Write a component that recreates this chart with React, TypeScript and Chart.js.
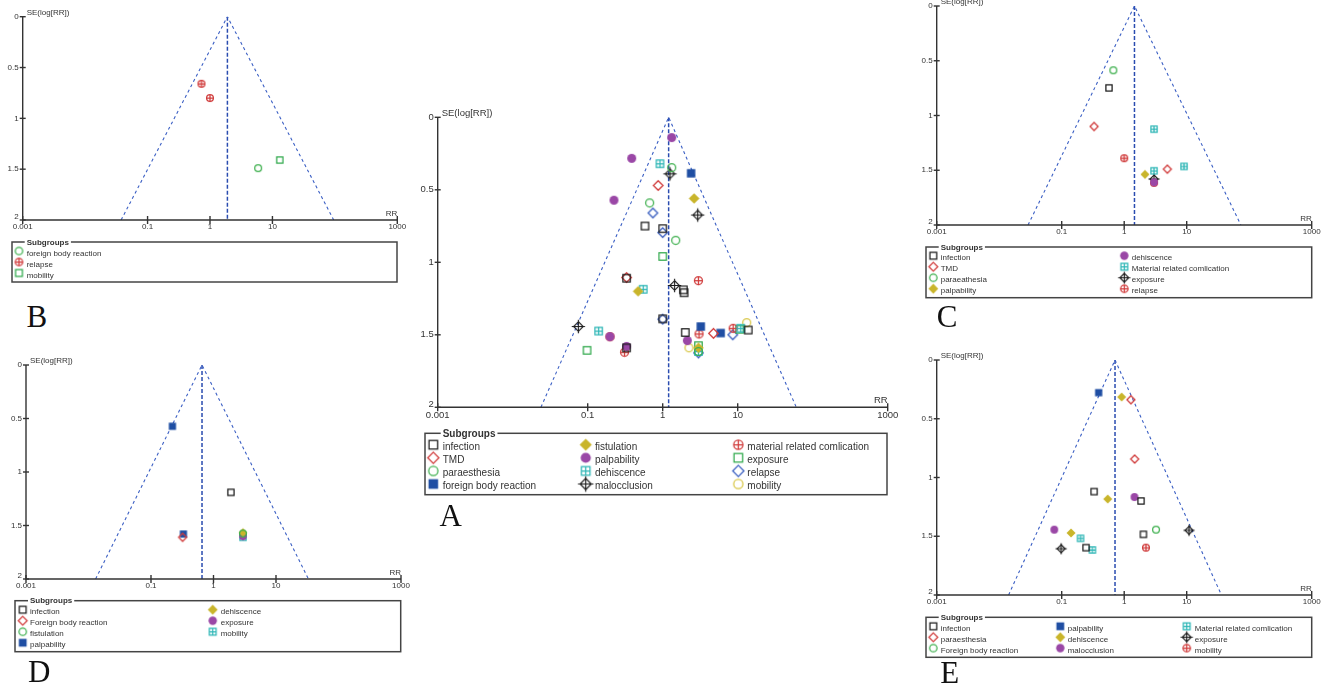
import React, { useEffect, useRef } from "react";
import { Chart, registerables } from "chart.js";

Chart.register(...registerables);

// ---------------- DATA ----------------
const xTickValues = [0.001, 0.1, 1, 10, 1000];
const xTickLabels = ["0.001", "0.1", "1", "10", "1000"];
const yTickValues = [0, 0.5, 1, 1.5, 2];
const yTickLabels = ["0", "0.5", "1", "1.5", "2"];

const panelNames = ["A", "B", "C", "D", "E"];
const pooledRR = [1.2, 1.9, 1.46, 0.655, 0.713];

// Panel A
const groupsA = ["infection", "TMD", "paraesthesia", "foreign body reaction", "fistulation", "palpability", "dehiscence", "malocclusion", "material related comlication", "exposure", "relapse", "mobility"];
const rrA = [
  [0.58, 1.0, 0.33, 1.89, 1.93, 1.0, 2.0, 13.8, 0.33],
  [0.87, 0.33, 4.75],
  [1.32, 0.67, 1.49, 3.0],
  [2.39, 3.22, 5.93],
  [2.62, 0.47, 3.0],
  [1.32, 0.386, 0.224, 0.198, 0.33, 2.13],
  [0.92, 0.55, 0.14, 11.0, 3.0],
  [1.25, 2.93, 1.44, 0.075],
  [2.99, 0.198, 0.31, 3.05, 8.7],
  [1.0, 0.098, 3.0, 10.6],
  [0.74, 1.0, 1.0, 8.6, 3.0],
  [13.2, 2.24],
];
const seA = [
  [0.75, 0.768, 1.11, 1.19, 1.21, 1.39, 1.484, 1.467, 1.59],
  [0.47, 1.105, 1.49],
  [0.347, 0.59, 0.848, 1.615],
  [0.386, 1.443, 1.488],
  [0.56, 1.2, 1.59],
  [0.14, 0.283, 0.572, 1.513, 1.58, 1.54],
  [0.32, 1.186, 1.474, 1.455, 1.615],
  [0.39, 0.674, 1.16, 1.443],
  [1.126, 1.513, 1.62, 1.494, 1.455],
  [0.96, 1.607, 1.575, 1.462],
  [0.66, 0.795, 1.392, 1.5, 1.625],
  [1.416, 1.589],
];

// Panel B
const groupsB = ["foreign body reaction", "relapse", "mobility"];
const rrB = [[5.9], [0.73, 1.0], [13.1]];
const seB = [[1.49], [0.66, 0.8], [1.41]];

// Panel C
const groupsC = ["infection", "TMD", "paraeathesia", "palpability", "dehiscence", "Material related comlication", "exposure", "relapse"];
const rrC = [[0.57], [0.33, 4.9], [0.67], [2.15], [3.0], [3.0, 9.06, 3.0], [3.0], [1.0, 3.0]];
const seC = [[0.748], [1.1, 1.49], [0.587], [1.538], [1.61], [1.125, 1.465, 1.505], [1.58], [1.39, 1.615]];

// Panel D
const groupsD = ["infection", "Foreign body reaction", "fistulation", "palpability", "dehiscence", "exposure", "mobility"];
const rrD = [[1.9], [0.32], [2.96], [0.22, 0.33], [2.96], [2.96], [2.96]];
const seD = [[1.19], [1.61], [1.575], [0.573, 1.58], [1.567], [1.6], [1.61]];

// Panel E
const groupsE = ["infection", "paraesthesia", "Foreign body reaction", "palpability", "dehiscence", "malocclusion", "Material related comlication", "exposure", "mobility"];
const rrE = [[0.33, 1.86, 2.03, 0.245], [1.28, 1.47], [3.23], [0.39], [0.91, 0.545, 0.141], [1.46, 0.076], [0.2, 0.31], [10.9, 0.098], [2.23]];
const seE = [[1.12, 1.2, 1.484, 1.597], [0.338, 0.843], [1.444], [0.278], [0.315, 1.183, 1.472], [1.166, 1.444], [1.518, 1.617], [1.45, 1.606], [1.597]];

// ---------------- STYLE ----------------
const BLACK = "#1a1a1a";
const RED = "#d03a3a";
const GREEN = "#3fb04f";
const BLUE = "#1f4ea3";
const YELLOW = "#c9b52b";
const PURPLE = "#9a47a6";
const CYAN = "#2bb5b5";
const GREEN2 = "#2ea84a";
const BLUE2 = "#3a5fc0";
const YELLOW2 = "#d8c645";

const styleA: [string, string][] = [
  ["square", BLACK], ["diamond", RED], ["circle", GREEN], ["squareFill", BLUE],
  ["diamondFill", YELLOW], ["circleFill", PURPLE], ["squarePlus", CYAN], ["diamondPlus", BLACK],
  ["circlePlus", RED], ["square", GREEN2], ["diamond", BLUE2], ["circle", YELLOW2],
];
const styleB: [string, string][] = [["circle", GREEN], ["circlePlus", RED], ["square", GREEN2]];
const styleC: [string, string][] = [
  ["square", BLACK], ["diamond", RED], ["circle", GREEN], ["diamondFill", YELLOW],
  ["circleFill", PURPLE], ["squarePlus", CYAN], ["diamondPlus", BLACK], ["circlePlus", RED],
];
const styleD: [string, string][] = [
  ["square", BLACK], ["diamond", RED], ["circle", GREEN], ["squareFill", BLUE],
  ["diamondFill", YELLOW], ["circleFill", PURPLE], ["squarePlus", CYAN],
];
const styleE: [string, string][] = [
  ["square", BLACK], ["diamond", RED], ["circle", GREEN], ["squareFill", BLUE],
  ["diamondFill", YELLOW], ["circleFill", PURPLE], ["squarePlus", CYAN], ["diamondPlus", BLACK], ["circlePlus", RED],
];

type Geo = {
  canvas: [number, number, number, number];
  area: [number, number, number, number];
  box: [number, number, number, number];
  titleX: number;
  row0: number;
  step: number;
  mx: number[];
  tx: number[];
  perCol: number;
  font: number;
  legFont: number;
  markR: number;
  legR: number;
  letter: [number, number];
};

const geos: Geo[] = [
  {
    canvas: [400, 95, 500, 410], area: [437.7, 117.3, 887.7, 407.3],
    box: [425, 433.3, 887, 494.7], titleX: 442.7, row0: 446.7, step: 13.1,
    mx: [433.3, 585.7, 738.3], tx: [442.7, 595, 747.3], perCol: 4,
    font: 9.5, legFont: 10, markR: 3.7, legR: 4.3, letter: [439.5, 500],
  },
  {
    canvas: [0, 0, 410, 290], area: [22.7, 16.7, 397.3, 220],
    box: [12, 242, 397, 282], titleX: 26.7, row0: 253, step: 11,
    mx: [19], tx: [26.7], perCol: 3,
    font: 8, legFont: 8, markR: 3.1, legR: 3.4, letter: [26.5, 301.4],
  },
  {
    canvas: [905, 0, 423, 300], area: [936.7, 5.7, 1311.7, 225],
    box: [926, 247, 1311.7, 297.7], titleX: 940.7, row0: 257.7, step: 11,
    mx: [933.3, 1124.3], tx: [940.7, 1131.7], perCol: 4,
    font: 8, legFont: 8, markR: 3.1, legR: 3.4, letter: [936.8, 300.8],
  },
  {
    canvas: [0, 345, 410, 315], area: [26, 365, 401, 579],
    box: [15, 600.7, 400.7, 651.7], titleX: 30, row0: 611.7, step: 11,
    mx: [22.7, 212.7], tx: [30, 220.7], perCol: 4,
    font: 8, legFont: 8, markR: 3.1, legR: 3.4, letter: [28, 656],
  },
  {
    canvas: [905, 345, 423, 320], area: [936.7, 360, 1311.7, 595],
    box: [926, 617.3, 1311.7, 657.3], titleX: 940.7, row0: 628.3, step: 10.9,
    mx: [933.3, 1060.3, 1186.7], tx: [940.7, 1067.7, 1194.7], perCol: 3,
    font: 8, legFont: 8, markR: 3.1, legR: 3.4, letter: [940.3, 657],
  },
];

const panelGroups = [groupsA, groupsB, groupsC, groupsD, groupsE];
const panelRR = [rrA, rrB, rrC, rrD, rrE];
const panelSE = [seA, seB, seC, seD, seE];
const panelStyles = [styleA, styleB, styleC, styleD, styleE];

const FONT = '"Liberation Sans", Arial, Helvetica, sans-serif';
const Z = 1.96 / Math.LN10;

function makeMarker(kind: string, color: string, r: number): HTMLCanvasElement {
  const s = Math.ceil(r * 2 * 1.9 + 6);
  const c = document.createElement("canvas");
  c.width = s;
  c.height = s;
  const g = c.getContext("2d")!;
  const m = s / 2;
  g.strokeStyle = color;
  g.fillStyle = color;
  g.lineWidth = 1.25;
  const d = r * 1.3;
  const diamondPath = (dd: number) => {
    g.beginPath();
    g.moveTo(m, m - dd);
    g.lineTo(m + dd, m);
    g.lineTo(m, m + dd);
    g.lineTo(m - dd, m);
    g.closePath();
  };
  switch (kind) {
    case "square":
      g.strokeRect(m - r, m - r, 2 * r, 2 * r);
      break;
    case "squareFill":
      g.fillRect(m - r - 0.5, m - r - 0.5, 2 * r + 1, 2 * r + 1);
      break;
    case "diamond":
      diamondPath(d);
      g.stroke();
      break;
    case "diamondFill":
      diamondPath(d + 0.5);
      g.fill();
      break;
    case "circle":
      g.beginPath();
      g.arc(m, m, r + 0.3, 0, Math.PI * 2);
      g.stroke();
      break;
    case "circleFill":
      g.beginPath();
      g.arc(m, m, r + 0.8, 0, Math.PI * 2);
      g.fill();
      break;
    case "squarePlus":
      g.strokeRect(m - r, m - r, 2 * r, 2 * r);
      g.beginPath();
      g.moveTo(m, m - r);
      g.lineTo(m, m + r);
      g.moveTo(m - r, m);
      g.lineTo(m + r, m);
      g.stroke();
      break;
    case "circlePlus":
      g.beginPath();
      g.arc(m, m, r + 0.3, 0, Math.PI * 2);
      g.stroke();
      g.beginPath();
      g.moveTo(m, m - r - 0.3);
      g.lineTo(m, m + r + 0.3);
      g.moveTo(m - r - 0.3, m);
      g.lineTo(m + r + 0.3, m);
      g.stroke();
      break;
    case "diamondPlus":
      g.lineWidth = 1.15;
      diamondPath(r * 1.3);
      g.stroke();
      g.beginPath();
      g.moveTo(m, m - r * 1.8);
      g.lineTo(m, m + r * 1.8);
      g.moveTo(m - r * 1.8, m);
      g.lineTo(m + r * 1.8, m);
      g.stroke();
      break;
  }
  return c;
}

function FunnelPanel({ idx }: { idx: number }) {
  const ref = useRef<HTMLCanvasElement>(null);
  const geo = geos[idx];
  useEffect(() => {
    if (!ref.current) return;
    const groups = panelGroups[idx];
    const rr = panelRR[idx];
    const se = panelSE[idx];
    const styles = panelStyles[idx];
    const c = Math.log10(pooledRR[idx]);
    const [cl, ct, cw, ch] = geo.canvas;
    const [ax0, ay0, ax1, ay1] = geo.area;

    const plotMarkers = styles.map(([k, col]) => makeMarker(k, col, geo.markR));
    const legMarkers = styles.map(([k, col]) => makeMarker(k, col, geo.legR));

    const pointSets: any[] = groups.map((name, gi) => ({
      label: name,
      data: rr[gi].map((v, i) => ({ x: v, y: se[gi][i] })),
      pointStyle: plotMarkers[gi],
      pointRadius: 5,
      showLine: false,
      borderColor: styles[gi][1],
      backgroundColor: styles[gi][1],
      clip: false,
    }));

    const funnelSets: any[] = [
      {
        label: "funnel",
        data: [
          { x: Math.pow(10, c - 2 * Z), y: 2 },
          { x: Math.pow(10, c), y: 0 },
          { x: Math.pow(10, c + 2 * Z), y: 2 },
        ],
        showLine: true,
        pointRadius: 0,
        borderColor: "#3b5fc4",
        borderWidth: 1.1,
        borderDash: [3, 3],
        fill: false,
      },
      {
        label: "pooled",
        data: [
          { x: pooledRR[idx], y: 0 },
          { x: pooledRR[idx], y: 2 },
        ],
        showLine: true,
        pointRadius: 0,
        borderColor: "#2a4cb0",
        borderWidth: 1.5,
        borderDash: [4, 2],
        fill: false,
      },
    ];

    const decor = {
      id: "decor" + idx,
      afterDraw(chart: any) {
        const ctx = chart.ctx as CanvasRenderingContext2D;
        const { left, right, top, bottom } = chart.chartArea;
        const xs = chart.scales.x;
        const ys = chart.scales.y;
        ctx.save();
        ctx.strokeStyle = "#333";
        ctx.lineWidth = 1.4;
        ctx.beginPath();
        ctx.moveTo(left, top);
        ctx.lineTo(left, bottom);
        ctx.lineTo(right, bottom);
        ctx.stroke();

        ctx.fillStyle = "#333";
        ctx.font = `${geo.font}px ${FONT}`;
        ctx.textAlign = "right";
        ctx.textBaseline = "middle";
        yTickValues.forEach((v, i) => {
          const y = ys.getPixelForValue(v);
          ctx.beginPath();
          ctx.moveTo(left - 3, y);
          ctx.lineTo(left + 3, y);
          ctx.stroke();
          ctx.fillText(yTickLabels[i], left - 4, i === yTickLabels.length - 1 ? y - 3 : y);
        });
        ctx.textAlign = "center";
        ctx.textBaseline = "top";
        xTickValues.forEach((v, i) => {
          const x = xs.getPixelForValue(v);
          ctx.beginPath();
          ctx.moveTo(x, bottom - 4);
          ctx.lineTo(x, bottom + 4);
          ctx.stroke();
          ctx.fillText(xTickLabels[i], x, bottom + 3);
        });
        ctx.textAlign = "right";
        ctx.textBaseline = "bottom";
        ctx.fillText("RR", right, bottom - 2);
        ctx.textAlign = "left";
        ctx.textBaseline = "middle";
        ctx.fillText("SE(log[RR])", left + 4, top - 4);

        // legend
        const [bx0, by0, bx1, by1] = geo.box.map((v, i) => (i % 2 === 0 ? v - cl : v - ct)) as number[];
        ctx.strokeStyle = "#444";
        ctx.lineWidth = 1.5;
        ctx.strokeRect(bx0, by0, bx1 - bx0, by1 - by0);
        ctx.font = `bold ${geo.legFont}px ${FONT}`;
        const title = "Subgroups";
        const tw = ctx.measureText(title).width;
        const titleX = geo.titleX - cl;
        ctx.fillStyle = "#fff";
        ctx.fillRect(titleX - 2, by0 - 3, tw + 4, 6);
        ctx.fillStyle = "#333";
        ctx.textBaseline = "middle";
        ctx.fillText(title, titleX, by0 + 0.5);
        ctx.font = `${geo.legFont}px ${FONT}`;
        groups.forEach((name, gi) => {
          const col = Math.floor(gi / geo.perCol);
          const row = gi % geo.perCol;
          const y = geo.row0 - ct + row * geo.step;
          const mk = legMarkers[gi];
          ctx.drawImage(mk, geo.mx[col] - cl - mk.width / 2, y - 2 - mk.height / 2);
          ctx.fillStyle = "#333";
          ctx.fillText(name, geo.tx[col] - cl, y + 0.5);
        });
        ctx.restore();
      },
    };

    const chart = new Chart(ref.current, {
      type: "scatter",
      data: { datasets: [...pointSets, ...funnelSets] },
      options: {
        animation: false,
        responsive: true,
        maintainAspectRatio: false,
        events: [],
        layout: {
          padding: {
            left: ax0 - cl,
            top: ay0 - ct,
            right: cl + cw - ax1,
            bottom: ct + ch - ay1,
          },
        },
        scales: {
          x: { type: "logarithmic", min: 0.001, max: 1000, display: false },
          y: { type: "linear", min: 0, max: 2, reverse: true, display: false },
        },
        plugins: { legend: { display: false }, tooltip: { enabled: false } },
      } as any,
      plugins: [decor],
    });
    return () => chart.destroy();
  }, [idx]);

  const [cl, ct, cw, ch] = geo.canvas;
  return (
    <>
      <div style={{ position: "absolute", left: cl, top: ct, width: cw, height: ch }}>
        <canvas ref={ref} style={{ display: "block" }} />
      </div>
      <div
        style={{
          position: "absolute",
          left: geo.letter[0],
          top: geo.letter[1],
          font: '31px "Liberation Serif", "Times New Roman", serif',
          lineHeight: "31px",
          color: "#111",
        }}
      >
        {panelNames[idx]}
      </div>
    </>
  );
}

export default function App() {
  return (
    <div
      style={{
        position: "absolute",
        left: 0,
        top: 0,
        width: 1328,
        height: 689,
        background: "#fff",
        overflow: "hidden",
      }}
    >
      {panelNames.map((_, i) => (
        <FunnelPanel key={i} idx={i} />
      ))}
    </div>
  );
}
